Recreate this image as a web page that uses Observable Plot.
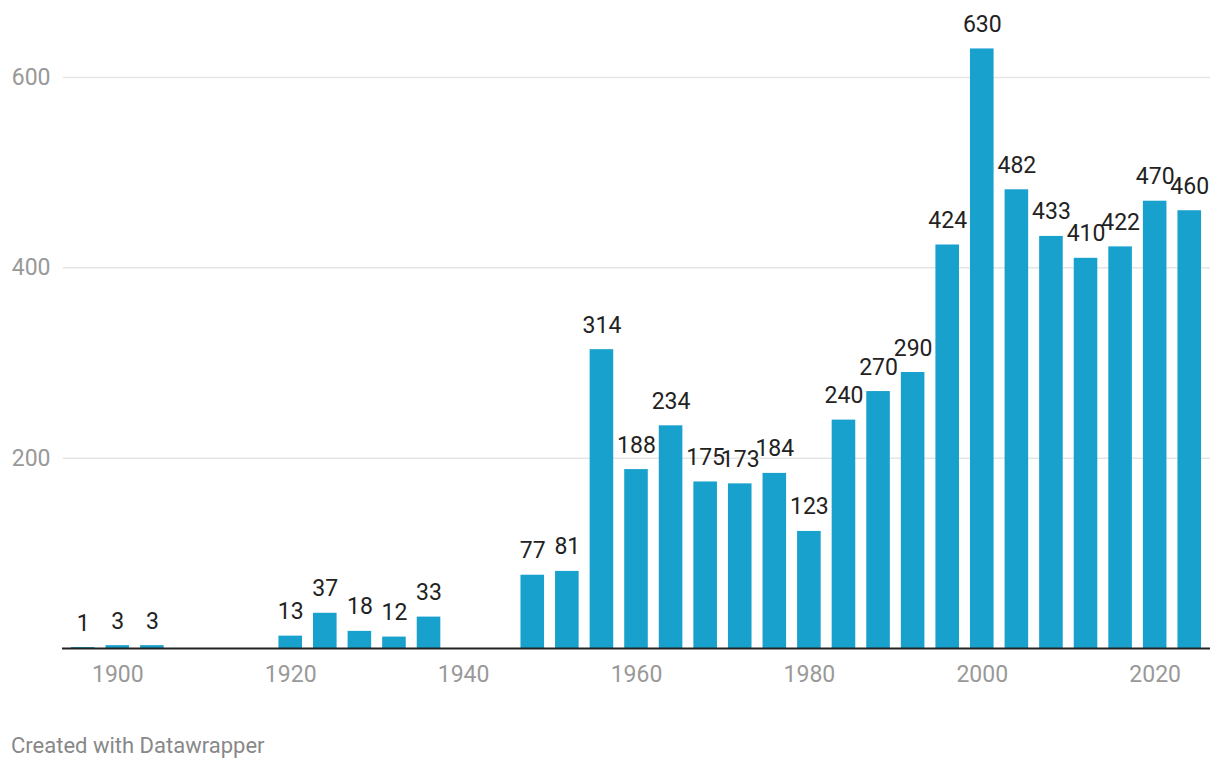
<!DOCTYPE html>
<html>
<head>
<meta charset="utf-8">
<script src="https://cdn.jsdelivr.net/npm/d3@7"></script>
<script src="https://cdn.jsdelivr.net/npm/@observablehq/plot@0.6"></script>
<style>
  html, body { margin: 0; padding: 0; background: #fff; }
  #wrap { position: relative; width: 1220px; height: 770px; font-family: Roboto, sans-serif; }
  #chart svg { display: block; }
  #footer { position: absolute; left: 11px; top: 734px; font-size: 22px; color: #888; line-height: 24px; }
</style>
</head>
<body>
<div id="wrap">
  <div id="chart"></div>
  <div id="footer">Created with Datawrapper</div>
</div>
<script>
const years = [1896,1900,1904,1920,1924,1928,1932,1936,1948,1952,1956,1960,1964,1968,1972,1976,1980,1984,1988,1992,1996,2000,2004,2008,2012,2016,2020,2024];
const values = [1,3,3,13,37,18,12,33,77,81,314,188,234,175,173,184,123,240,270,290,424,630,482,433,410,422,470,460];
const yTicks = [200, 400, 600];
const xTicks = [1900, 1920, 1940, 1960, 1980, 2000, 2020];

const data = years.map((y, i) => ({year: y, value: values[i]}));

const chart = Plot.plot({
  width: 1220,
  height: 700,
  marginLeft: 62,
  marginRight: 10,
  marginTop: 0,
  marginBottom: 52,
  style: {fontFamily: "Roboto, sans-serif", fontSize: "23px", background: "#fff"},
  x: {domain: [1893.6, 2026.4], range: [62, 1210]},
  y: {domain: [0, 600], range: [648, 77]},
  marks: [
    Plot.ruleY(yTicks, {stroke: "#e5e5e5", strokeWidth: 1.5, x1: 1893.7, x2: 2026.4}),
    Plot.axisY({ticks: yTicks, tickSize: 0, tickPadding: 12, color: "#999", fontSize: 23, label: null}),
    Plot.rect(data, {
      x1: d => d.year - 2,
      x2: d => d.year + 2,
      y1: 0,
      y2: "value",
      insetLeft: 5.5,
      insetRight: 5.5,
      fill: "#18a1cd"
    }),
    Plot.ruleY([0], {stroke: "#222", strokeWidth: 2}),
    Plot.axisX({ticks: xTicks, tickFormat: d => String(d), tickSize: 0, tickPadding: 17, color: "#999", fontSize: 23, label: null}),
    Plot.text(data, {
      x: "year",
      y: "value",
      text: d => String(d.value),
      lineAnchor: "bottom",
      dy: -17,
      fill: "#222",
      fontSize: 23
    })
  ]
});
document.getElementById("chart").appendChild(chart);
</script>
</body>
</html>
